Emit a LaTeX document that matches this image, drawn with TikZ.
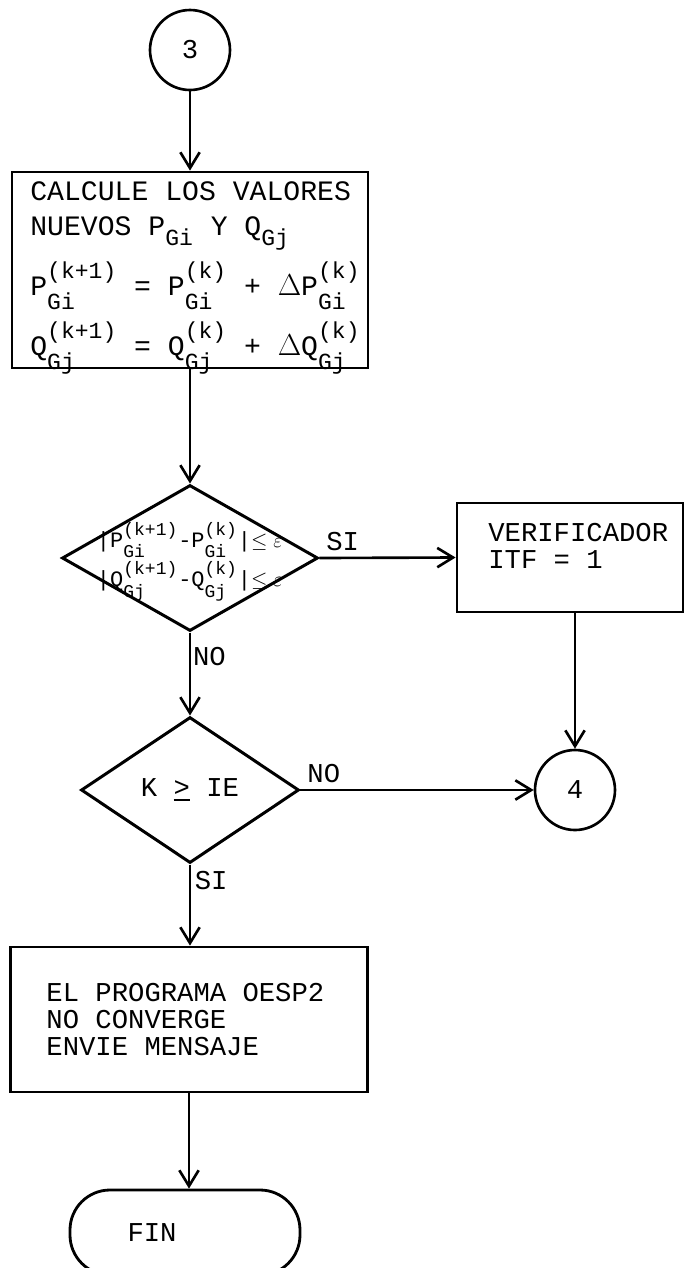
\documentclass[tikz,border=0pt]{standalone}
\usepackage{fontspec}
\setmonofont{Liberation Mono}
\usepackage{amsmath}
\usepackage{graphicx}
\usetikzlibrary{shapes.geometric,arrows.meta,positioning}

% variable con superindice y subindice
\newcommand{\magn}[3]{#1$^{\mbox{\raisebox{.2em}{\scalebox{.82}{#2}}}}_{\mbox{\raisebox{-.25em}{\scalebox{.82}{#3}}}}$}
\newcommand{\subi}[2]{#1$_{\mbox{\raisebox{-.2em}{\scalebox{.82}{#2}}}}$}

\begin{document}
\begin{tikzpicture}[>={Straight Barb[length=9pt,width=11pt]},
  every node/.style={font=\ttfamily\fontsize{15.5}{15.5}\selectfont},
  caja/.style={draw,line width=1.6pt,inner sep=0pt},
  linea/.style={anchor=base west,inner sep=0pt,font=\ttfamily\fontsize{16}{16}\selectfont},
  rombo/.style={draw,diamond,line width=1.7pt,inner sep=0pt},
  conector/.style={draw,circle,line width=1.5pt,minimum size=1.6cm,inner sep=0pt},
  flecha/.style={->,line width=1.5pt}]
  \useasboundingbox (0,0) rectangle (13.7,-25.36);
  % conector de entrada
  \node[conector] (c3) at (3.8,-1.0) {3};
  % calculo de los valores nuevos
  \node[caja,minimum width=7.12cm,minimum height=3.92cm] (calc) at (3.8,-5.4) {};
  \node[linea] (calc1) at (0.6,-4.0) {CALCULE LOS VALORES};
  \node[linea] (calc2) at (0.6,-4.7) {NUEVOS \subi{P}{Gi} Y \subi{Q}{Gj}};
  \node[linea] (calc3) at (0.6,-5.9)
    {\magn{P}{(k+1)}{Gi} = \magn{P}{(k)}{Gi} + $\Delta$\magn{P}{(k)}{Gi}};
  \node[linea] (calc4) at (0.6,-7.1)
    {\magn{Q}{(k+1)}{Gj} = \magn{Q}{(k)}{Gj} + $\Delta$\magn{Q}{(k)}{Gj}};
  % prueba de convergencia
  \node[rombo,minimum width=5.12cm,minimum height=2.92cm] (conv) at (3.8,-11.16) {};
  \node[font=\ttfamily\fontsize{12.5}{14}\selectfont,align=left,inner sep=0pt] (convT) at ([yshift=-2pt]conv)
    {|\magn{P}{(k+1)}{Gi}-\magn{P}{(k)}{Gi}|$\le\varepsilon$\\[1pt]
     |\magn{Q}{(k+1)}{Gj}-\magn{Q}{(k)}{Gj}|$\le\varepsilon$};
  \node[caja,minimum width=4.52cm,minimum height=2.18cm] (ver) at (11.4,-11.15) {};
  \node[anchor=north west,align=left,inner sep=0pt] (verT) at (9.76,-10.45)
    {VERIFICADOR\\ITF = 1};
  \node[conector] (c4) at (11.5,-15.8) {4};
  % limite de iteraciones
  \node[rombo,minimum width=4.36cm,minimum height=2.92cm] (lim) at (3.8,-15.8) {};
  \node (limT) at (lim) {K \underline{>} IE};
  \node[caja,minimum width=7.14cm,minimum height=2.9cm] (mens) at (3.78,-20.39) {};
  \node[anchor=west,align=left,inner sep=0pt] (mensT) at ([xshift=0.74cm]mens.west)
    {EL PROGRAMA OESP2\\NO CONVERGE\\ENVIE MENSAJE};
  \node[draw,line width=1.6pt,rounded corners=0.8cm,minimum width=4.6cm,minimum height=1.7cm,
    text width=2.3cm,inner xsep=1.15cm,align=left] (fin) at (3.7,-24.65) {FIN};
  % flechas
  \draw[flecha] (c3) -- (calc);
  \draw[flecha] (calc) -- (conv);
  \draw[flecha] (conv.east) -- node[above,pos=0.17] (si1) {SI} (ver.west);
  \draw[flecha] (ver.south -| c4.north) -- (c4.north);
  \draw[flecha] (conv.south) -- node[right,pos=0.29,inner sep=1pt] (no1) {NO} (lim.north);
  \draw[flecha] (lim.east) -- node[above,pos=0.1] (no2) {NO} (c4.west);
  \draw[flecha] (lim.south) -- node[right,pos=0.2,inner sep=2pt] (si2) {SI} (lim.south |- mens.north);
  \draw[flecha] (mens.south) -- (mens.south |- fin.north);
\end{tikzpicture}
\end{document}
